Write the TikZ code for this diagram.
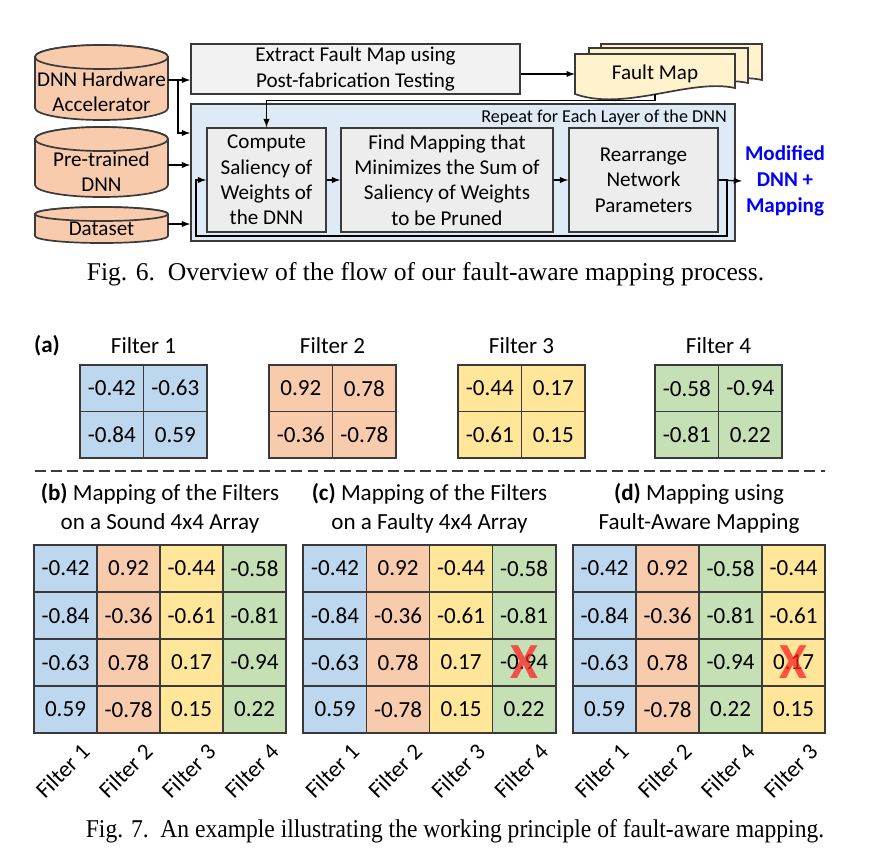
\documentclass[tikz,border=0pt]{standalone}
\usepackage{fontspec}
\setmainfont{Carlito}
\newfontfamily\capfont{Liberation Serif}
\usepackage{tikz}

\definecolor{fblue}{HTML}{BDD7EE}
\definecolor{forange}{HTML}{F8CBAD}
\definecolor{fyellow}{HTML}{FFE699}
\definecolor{fgreen}{HTML}{C5E0B4}
\definecolor{boxgray}{HTML}{EDEDED}
\definecolor{extgray}{HTML}{F2F2F2}
\definecolor{loopblue}{HTML}{DEEBF7}
\definecolor{mapyellow}{HTML}{FFF2CC}
\definecolor{edge}{HTML}{3A3A3A}
\definecolor{outblue}{HTML}{0000FF}
\definecolor{faultred}{HTML}{FF2020}

\newcommand{\topfont}{\fontsize{15}{18}\selectfont}
\newcommand{\lowfont}{\fontsize{16.4}{20.5}\selectfont}

\tikzset{
  arr/.style={-latex, line width=1pt},
  procbox/.style={draw=edge, line width=1.2pt, inner sep=0pt, align=center, font=\topfont},
  cyltext/.style={minimum width=3.325cm, inner sep=0pt, align=center, font=\topfont},
  cylfill/.style={fill=forange, draw=edge, line width=1.2pt},
  docstyle/.style={fill=mapyellow, draw=edge, line width=1.2pt},
  lowtext/.style={inner sep=0pt, align=center, font=\lowfont},
  fcell/.style={draw=edge, line width=0.8pt, minimum width=1.5875cm, minimum height=1.1625cm, inner sep=0pt, font=\lowfont},
  mcell/.style={draw=edge, line width=0.8pt, minimum width=1.575cm, minimum height=1.175cm, inner sep=0pt, font=\lowfont},
  rotlab/.style={rotate=45, inner sep=0pt, font=\lowfont},
  faultx/.style={text=faultred, opacity=0.75, inner sep=0pt, font=\fontsize{36}{36}\selectfont\bfseries},
  captext/.style={inner sep=0pt, font=\capfont\fontsize{18.2}{22}\selectfont}
}

% cylinder: left, right, top centre, bottom centre, y radius
\newcommand{\dbcyl}[5]{%
  \filldraw[cylfill] (#1,#3) -- (#1,#4)
    arc[start angle=180, end angle=0, x radius={(#2-#1)/2}, y radius=#5] -- (#2,#3)
    arc[start angle=0, end angle=-180, x radius={(#2-#1)/2}, y radius=#5] -- cycle;
  \draw[cylfill] ({(#1+#2)/2},#3) ellipse[x radius={(#2-#1)/2}, y radius=#5];
}
% document sheet: left, top, right, bottom right
\newcommand{\faultdoc}[4]{%
  \filldraw[docstyle] (#1,#2) -- (#3,#2) -- (#3,#4)
    .. controls ({#3-45},#4-10) and ({#1+50},#4+24) .. (#1,#4+6) -- cycle;
}

\begin{document}
\begin{tikzpicture}[x=0.025cm, y=-0.025cm]
\useasboundingbox (0,0) rectangle (872,857);

% Fig. 6
\dbcyl{35}{168}{57}{108}{12}
\dbcyl{35}{168}{139}{185}{12}
\dbcyl{35}{168}{214}{236}{7}
\node[cyltext] (hw) at (101.5,92) {DNN Hardware\\Accelerator};
\node[cyltext] (pre) at (101.5,172) {Pre-trained\\DNN};
\node[cyltext] (data) at (101.5,229) {Dataset};

\node[procbox, fill=extgray, minimum width=8.225cm, minimum height=1.25cm] (ext) at (355.5,69) {Extract Fault Map using\\Post-fabrication Testing};
\node[procbox, fill=loopblue, minimum width=13.6cm, minimum height=3.425cm] (loop) at (463,172.5) {};
\node[anchor=east, inner sep=0pt, font=\fontsize{12.9}{15}\selectfont] (rep) at (727,118) {Repeat for Each Layer of the DNN};

\faultdoc{601}{44}{762}{80}
\faultdoc{589}{48}{748}{83}
\faultdoc{575}{54}{735}{88}
\node[minimum width=4cm, minimum height=1cm, inner sep=0pt, font=\topfont] (fm) at (655,74) {Fault Map};

\node[procbox, fill=boxgray, minimum width=2.975cm, minimum height=2.6cm] (comp) at (266.5,180) {Compute\\Saliency of\\Weights of\\the DNN};
\node[procbox, fill=boxgray, minimum width=5.3cm, minimum height=2.6cm] (find) at (447,180) {Find Mapping that\\Minimizes the Sum of\\Saliency of Weights\\to be Pruned};
\node[procbox, fill=boxgray, minimum width=3.725cm, minimum height=2.6cm] (rear) at (643.5,180) {Rearrange\\Network\\Parameters};
\node[inner sep=2pt, align=center, text=outblue, font=\fontsize{15}{18.5}\selectfont\bfseries] (out) at (785,181) {Modified\\DNN +\\Mapping};

\coordinate (split) at (178,80);
\coordinate (loopR) at (727,236);
\coordinate (loopL) at (196,236);
\draw[arr] (hw.east |- 0,80) -- (ext.west |- 0,80);
\draw[arr] (split) |- (loop.west |- 0,133);
\draw[arr] (pre.east |- 0,165) -- (loop.west |- 0,165);
\draw[arr] (data.east |- 0,224) -- (loop.west |- 0,224);
\draw[arr] (ext.east |- fm.west) -- (fm.west);
\draw[arr] (fm.south) -- ++(0,6) -| (comp.north);
\draw[arr] (comp) -- (find);
\draw[arr] (find) -- (rear);
\draw[arr] (rear.east) -| (loopR) -- (loopL) |- (comp.west);
\draw[arr] (rear.east) -- (out.west);

\node[captext] (cap6) at (425.5,274) {Fig. 6.\ \ Overview of the flow of our fault-aware mapping process.};

% Fig. 7 (a)
\node[inner sep=0pt, font=\lowfont\bfseries] (alab) at (47,346) {(a)};
\foreach \k/\x/\col/\va/\vb/\vc/\vd in {1/80/fblue/-0.42/-0.63/-0.84/0.59, 2/269/forange/0.92/0.78/-0.36/-0.78, 3/458/fyellow/-0.44/0.17/-0.61/0.15, 4/655/fgreen/-0.58/-0.94/-0.81/0.22}{
  \node[lowtext] (f\k-lab) at (\x+63.5,346) {Filter \k};
  \node[fcell, fill=\col] (f\k-1-1) at (\x+31.75,388.25) {\va};
  \node[fcell, fill=\col] (f\k-1-2) at (\x+95.25,388.25) {\vb};
  \node[fcell, fill=\col] (f\k-2-1) at (\x+31.75,434.75) {\vc};
  \node[fcell, fill=\col] (f\k-2-2) at (\x+95.25,434.75) {\vd};
  \draw[edge, line width=1.2pt] (f\k-1-1.north west) rectangle (f\k-2-2.south east);
}

\draw[edge, line width=1pt, dash pattern=on 7.8pt off 3.6pt] (35,471) -- (825,471);

% Fig. 7 (b)-(d)
\node[lowtext] (btitle) at (160,508.5) {\textbf{(b)} Mapping of the Filters\\on a Sound 4x4 Array};
\node[lowtext] (ctitle) at (429.5,508.5) {\textbf{(c)} Mapping of the Filters\\on a Faulty 4x4 Array};
\node[lowtext] (dtitle) at (699,508.5) {\textbf{(d)} Mapping using\\Fault-Aware Mapping};

\foreach \g/\gx in {b/34, c/303.5}{
  \foreach \col/\k/\va/\vb/\vc/\vd [count=\i] in {fblue/1/-0.42/-0.84/-0.63/0.59, forange/2/0.92/-0.36/0.78/-0.78, fyellow/3/-0.44/-0.61/0.17/0.15, fgreen/4/-0.58/-0.81/-0.94/0.22}{
    \node[mcell, fill=\col] (\g-1-\i) at (\gx+63*\i-31.5,568.5) {\va};
    \node[mcell, fill=\col] (\g-2-\i) at (\gx+63*\i-31.5,615.5) {\vb};
    \node[mcell, fill=\col] (\g-3-\i) at (\gx+63*\i-31.5,662.5) {\vc};
    \node[mcell, fill=\col] (\g-4-\i) at (\gx+63*\i-31.5,709.5) {\vd};
    \node[rotlab] (\g-f\i) at (\gx+63*\i-34.5,771) {Filter \k};
  }
  \draw[edge, line width=1.2pt] (\g-1-1.north west) rectangle (\g-4-4.south east);
}
\foreach \col/\k/\va/\vb/\vc/\vd [count=\i] in {fblue/1/-0.42/-0.84/-0.63/0.59, forange/2/0.92/-0.36/0.78/-0.78, fgreen/4/-0.58/-0.81/-0.94/0.22, fyellow/3/-0.44/-0.61/0.17/0.15}{
  \node[mcell, fill=\col] (d-1-\i) at (573+63*\i-31.5,568.5) {\va};
  \node[mcell, fill=\col] (d-2-\i) at (573+63*\i-31.5,615.5) {\vb};
  \node[mcell, fill=\col] (d-3-\i) at (573+63*\i-31.5,662.5) {\vc};
  \node[mcell, fill=\col] (d-4-\i) at (573+63*\i-31.5,709.5) {\vd};
  \node[rotlab] (d-f\i) at (573+63*\i-34.5,771) {Filter \k};
}
\draw[edge, line width=1.2pt] (d-1-1.north west) rectangle (d-4-4.south east);

\node[faultx] (cx) at (c-3-4) {X};
\node[faultx] (dx) at (d-3-4) {X};

\node[captext] (cap7) at (455,831) {\scalebox{0.92}[1]{Fig. 7.\ \ An example illustrating the working principle of fault-aware mapping.}};
\end{tikzpicture}
\end{document}
